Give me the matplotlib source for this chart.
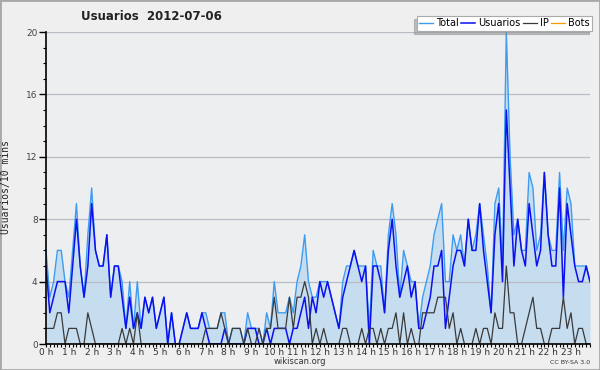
import numpy as np
import matplotlib
matplotlib.use("Agg")
import matplotlib.pyplot as plt
from matplotlib.patches import Rectangle

# 10-minute slots, 2012-07-06
total = [6, 3, 4, 6, 6, 4, 3, 6, 9, 5, 3, 7, 10, 6, 5, 5, 7, 3, 5, 5, 4, 1, 4, 1, 4,
         1, 3, 2, 3, 1, 2, 3, 0, 2, 0, 0, 1, 2, 1, 1, 1, 2, 2, 1, 1, 1, 2, 2, 0, 1,
         1, 1, 0, 2, 1, 1, 1, 0, 2, 1, 4, 2, 2, 2, 3, 2, 4, 5, 7, 4, 3, 3, 4, 4, 4,
         3, 2, 1, 4, 5, 5, 6, 5, 5, 5, 1, 6, 5, 5, 2, 7, 9, 7, 3, 6, 5, 4, 4, 1, 3,
         4, 5, 7, 8, 9, 4, 4, 7, 6, 7, 5, 8, 6, 7, 9, 7, 5, 2, 9, 10, 5, 20, 12, 7, 8,
         6, 6, 11, 10, 6, 7, 11, 7, 6, 6, 11, 6, 10, 9, 5, 5, 5, 5, 4]
usuarios = [5, 2, 3, 4, 4, 4, 2, 5, 8, 5, 3, 5, 9, 6, 5, 5, 7, 3, 5, 5, 3, 1, 3, 1, 2,
            1, 3, 2, 3, 1, 2, 3, 0, 2, 0, 0, 1, 2, 1, 1, 1, 2, 1, 0, 0, 0, 0, 1, 0, 0,
            0, 0, 0, 1, 1, 1, 0, 0, 1, 0, 1, 1, 1, 1, 0, 1, 1, 2, 3, 1, 3, 2, 4, 3, 4,
            3, 2, 1, 3, 4, 5, 6, 5, 4, 5, 0, 5, 5, 4, 2, 6, 8, 5, 3, 4, 5, 3, 4, 1, 1,
            2, 3, 5, 5, 6, 1, 3, 5, 6, 6, 5, 8, 6, 6, 9, 6, 4, 2, 7, 9, 4, 15, 10, 5, 8,
            6, 5, 9, 7, 5, 6, 11, 7, 5, 5, 10, 3, 9, 7, 5, 4, 4, 5, 4]
ip = [1, 1, 1, 2, 2, 0, 1, 1, 1, 0, 0, 2, 1, 0, 0, 0, 0, 0, 0, 0, 1, 0, 1, 0, 2,
      0, 0, 0, 0, 0, 0, 0, 0, 0, 0, 0, 0, 0, 0, 0, 0, 0, 1, 1, 1, 1, 2, 1, 0, 1,
      1, 1, 0, 1, 0, 0, 1, 0, 1, 1, 3, 1, 1, 1, 3, 1, 3, 3, 4, 3, 0, 1, 0, 1, 0,
      0, 0, 0, 1, 1, 0, 0, 0, 1, 0, 1, 1, 0, 1, 0, 1, 1, 2, 0, 2, 0, 1, 0, 0, 2,
      2, 2, 2, 3, 3, 3, 1, 2, 0, 1, 0, 0, 0, 1, 0, 1, 1, 0, 2, 1, 1, 5, 2, 2, 0,
      0, 1, 2, 3, 1, 1, 0, 0, 1, 1, 1, 3, 1, 2, 0, 1, 1, 0, 0]
bots = [0] * 144
hour_labels = [f"{h} h" for h in range(24)]

x = np.arange(len(total))

fig = plt.figure(figsize=(6, 3.7), dpi=100, facecolor="#efefef")
ax = fig.add_axes([46 / 600, 1 - 344 / 370, 544 / 600, 312 / 370])
ax.set_facecolor("#edeef0")

ax.fill_between(x, total, 0, color="#c6ddf0", lw=0, zorder=1)
ax.plot(x, total, color="#3d9cf0", lw=1.0, label="Total", zorder=3)
ax.plot(x, usuarios, color="#0a10f0", lw=1.1, label="Usuarios", zorder=4)
ax.plot(x, ip, color="#3a3a3a", lw=0.9, label="IP", zorder=5)
ax.plot(x, bots, color="#ff9900", lw=0.9, label="Bots", zorder=2)

ax.set_xlim(0, len(total) - 1)
ax.set_ylim(0, 20)
ax.set_yticks([0, 4, 8, 12, 16, 20])
ax.set_yticks(np.arange(0, 21, 1), minor=True)
ax.set_xticks(np.arange(0, 144, 6))
ax.set_xticklabels(hour_labels)
ax.set_xticks(x, minor=True)
ax.set_axisbelow("line")
ax.grid(axis="y", color="#b8bcc4", lw=0.9)

for s in ["top", "right"]:
    ax.spines[s].set_visible(False)
for s in ["left", "bottom"]:
    ax.spines[s].set_linewidth(1.2)
    ax.spines[s].set_zorder(6)

ax.tick_params(axis="y", which="major", labelsize=6.5, length=5, width=1,
               colors="black", labelcolor="#444444", pad=1)
ax.tick_params(axis="y", which="minor", length=2.5, width=0.8)
ax.tick_params(axis="x", which="major", labelsize=6.5, length=2.5, width=0.8,
               colors="black", labelcolor="#333333", pad=0.5)
ax.tick_params(axis="x", which="minor", length=2.5, width=0.8)

fig.text(6 / 600, 1 - 187 / 370, "Usuarios/10 mins", rotation=90, ha="center",
         va="center", family="DejaVu Sans Mono", fontsize=7, color="#222222")
fig.text(151 / 600, 1 - 16 / 370, "Usuarios  2012-07-06", ha="center", va="center",
         fontsize=8.5, fontweight="bold", color="#222222")
fig.text(300 / 600, 1 - 362 / 370, "wikiscan.org", ha="center", va="center",
         fontsize=6, color="#333333")
fig.text(590 / 600, 1 - 362 / 370, "CC BY-SA 3.0", ha="right", va="center",
         fontsize=4.5, color="#333333")

leg = ax.legend(loc="upper right", bbox_to_anchor=(592 / 600, 1 - 16 / 370),
                bbox_transform=fig.transFigure, ncol=4, fontsize=7,
                frameon=True, fancybox=False, borderpad=0.25, handlelength=1.4,
                handletextpad=0.3, columnspacing=0.3, borderaxespad=0,
                shadow={"ox": -2.2, "oy": -2.2, "shade": 0.45})
leg.get_frame().set_edgecolor("#aaaaaa")
leg.get_frame().set_linewidth(0.8)
leg.set_zorder(10)

fig.patches.append(Rectangle((0, 0), 1, 1, transform=fig.transFigure, fill=False,
                             edgecolor="#a8a8a8", lw=2))

fig.savefig("out.png", dpi=100, facecolor=fig.get_facecolor())
